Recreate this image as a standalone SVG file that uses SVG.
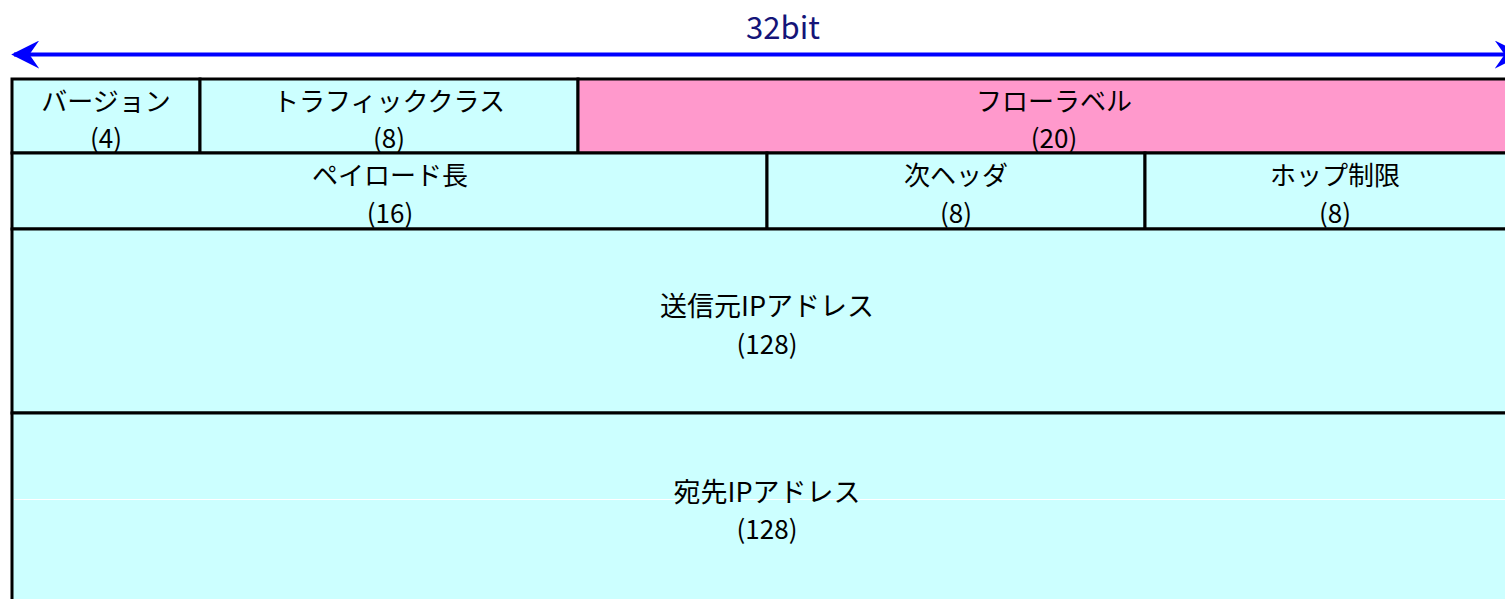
<svg xmlns="http://www.w3.org/2000/svg" width="1505" height="599" viewBox="0 0 1505 599">
<style>
.cell{fill:#CCFFFF;stroke:#000;stroke-width:3}
.pink{fill:#FF99CC;stroke:#000;stroke-width:3}
.t{font-family:"Noto Sans CJK JP","Liberation Sans",sans-serif;font-size:26px;fill:#000;text-anchor:middle}
.w{font-size:27px}
.title{font-family:"Noto Sans CJK JP","Liberation Sans",sans-serif;font-size:31px;fill:#141478;text-anchor:middle}
</style>
<defs>
<marker id="ah" viewBox="0 0 10 10" refX="9" refY="5" markerWidth="7" markerHeight="7" markerUnits="strokeWidth" orient="auto-start-reverse">
<path d="M0,0 L10,5 L0,10 L3.5,5 Z" fill="#0000FF"/>
</marker>
</defs>
<rect width="1505" height="599" fill="#fff"/>
<text class="title" x="783" y="39">32bit</text>
<g id="connectors">
<line x1="14" y1="54.5" x2="1520" y2="54.5" stroke="#0000FF" stroke-width="4" marker-start="url(#ah)" marker-end="url(#ah)"/>
</g>
<g id="version"><rect class="cell" x="12" y="79" width="188" height="74"/><text class="t" x="106" y="111">バージョン</text><text class="t" x="106" y="148">(4)</text></g>
<g id="traffic"><rect class="cell" x="200" y="79" width="378" height="74"/><text class="t" x="389" y="111">トラフィッククラス</text><text class="t" x="389" y="148">(8)</text></g>
<g id="flow"><rect class="pink" x="578" y="79" width="945" height="74"/><text class="t" x="1054" y="111">フローラベル</text><text class="t" x="1054" y="148">(20)</text></g>
<g id="payload"><rect class="cell" x="12" y="153" width="755" height="76"/><text class="t" x="390" y="185">ペイロード長</text><text class="t" x="390" y="223">(16)</text></g>
<g id="next"><rect class="cell" x="767" y="153" width="378" height="76"/><text class="t" x="956" y="185">次ヘッダ</text><text class="t" x="956" y="223">(8)</text></g>
<g id="hop"><rect class="cell" x="1145" y="153" width="378" height="76"/><text class="t" x="1335" y="185">ホップ制限</text><text class="t" x="1335" y="223">(8)</text></g>
<g id="src"><rect class="cell" x="12" y="229" width="1511" height="184"/><text class="t w" x="767" y="316">送信元IPアドレス</text><text class="t" x="767" y="354">(128)</text></g>
<g id="dst"><rect class="cell" x="12" y="413" width="1511" height="200"/><line x1="14" y1="499.5" x2="1505" y2="499.5" stroke="#fff" stroke-width="1"/><text class="t w" x="767" y="502">宛先IPアドレス</text><text class="t" x="767" y="539">(128)</text></g>
</svg>
